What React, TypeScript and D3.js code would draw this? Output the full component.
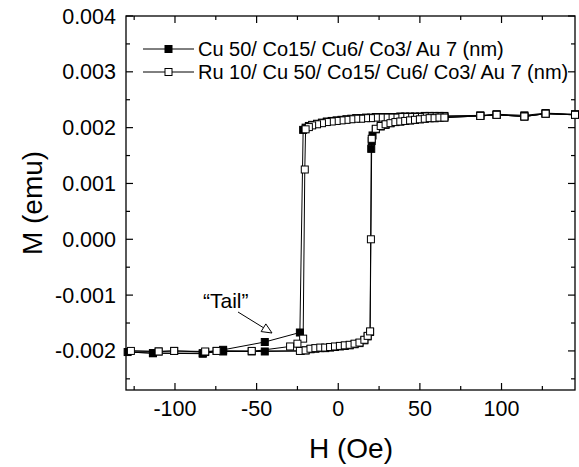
import React from 'react'
import * as d3 from 'd3'

const W = 579, HT = 467
const FONT = '"Liberation Sans", Arial, Helvetica, sans-serif'

// axis ticks (M in 1e-3 emu)
const xTicks = [-100, -50, 0, 50, 100]
const xMinor = [-125, -75, -25, 25, 75, 125]
const yTicks = [-2, -1, 0, 1, 2, 3, 4]
const yMinor = [-2.5, -1.5, -0.5, 0.5, 1.5, 2.5, 3.5]

const names = ['Cu 50/ Co15/ Cu6/ Co3/ Au 7 (nm)', 'Ru 10/ Cu 50/ Co15/ Cu6/ Co3/ Au 7 (nm)']

// Cu 50 / ... (filled squares), sweep down then up
const hCu = [145, 127, 114, 97, 87, 65, 62, 59, 56, 53, 50, 47, 44, 41, 38, 35, 32, 29, 26, 23, 20, 17, 14, 11, 8, 5, 2, -1, -4, -7, -10, -13, -16, -18, -20, -21.5,
  -23.5, -45, -70.5, -83, -113.5, -129,
  -113.5, -83, -70.5, -45, -23, -20, -17, -14, -11, -8, -5, -2, 1, 4, 7, 10, 13, 16, 18, 19.5,
  20.2, 20.5, 21, 23, 26, 29, 32, 35, 38, 41, 44, 47, 50, 53, 56, 59, 62, 65, 87, 97, 114, 127, 145]
const mCu = [2.24, 2.26, 2.22, 2.24, 2.22, 2.21, 2.21, 2.21, 2.21, 2.21, 2.2, 2.2, 2.2, 2.2, 2.2, 2.19, 2.19, 2.19, 2.19, 2.19, 2.18, 2.18, 2.17, 2.17, 2.16, 2.15, 2.14, 2.13, 2.12, 2.11, 2.09, 2.07, 2.05, 2.03, 2.0, 1.96,
  -1.67, -1.84, -1.98, -2.05, -2.04, -2.02,
  -2.04, -2.04, -2.01, -2.01, -2.0, -1.99, -1.97, -1.96, -1.95, -1.95, -1.94, -1.93, -1.92, -1.91, -1.9, -1.88, -1.86, -1.81, -1.74, -1.66,
  1.62, 1.76, 1.86, 1.97, 2.02, 2.05, 2.08, 2.1, 2.11, 2.12, 2.13, 2.14, 2.15, 2.16, 2.17, 2.17, 2.18, 2.18, 2.21, 2.23, 2.2, 2.25, 2.23]

// Ru 10 / Cu 50 / ... (open squares)
const hRu = [145, 127, 114, 97, 87, 65, 62, 59, 56, 53, 50, 47, 44, 41, 38, 35, 32, 29, 26, 23, 20, 17, 14, 11, 8, 5, 2, -1, -4, -7, -10, -13, -16, -18, -20,
  -20.5, -21.5, -25, -29.5, -53, -74.5, -81.5, -100.5, -110, -127,
  -110, -100.5, -81.5, -74.5, -53, -23.5, -20, -17, -14, -11, -8, -5, -2, 1, 4, 7, 10, 13, 16, 18, 19.5,
  20, 20.5, 23, 26, 29, 32, 35, 38, 41, 44, 47, 50, 53, 56, 59, 62, 65, 87, 97, 114, 127, 145]
const mRu = [2.23, 2.25, 2.2, 2.23, 2.21, 2.2, 2.2, 2.2, 2.2, 2.2, 2.19, 2.19, 2.19, 2.19, 2.19, 2.18, 2.18, 2.18, 2.18, 2.18, 2.17, 2.17, 2.16, 2.16, 2.15, 2.14, 2.13, 2.12, 2.11, 2.1, 2.08, 2.06, 2.04, 2.01, 1.97,
  1.25, -1.78, -1.87, -1.92, -2.01, -2.0, -2.02, -2.0, -2.01, -2.0,
  -2.01, -2.0, -2.01, -2.0, -2.0, -2.0, -1.99, -1.96, -1.95, -1.94, -1.94, -1.93, -1.92, -1.91, -1.9, -1.89, -1.87, -1.85, -1.8, -1.73, -1.65,
  0.0, 1.8, 1.98, 2.03, 2.06, 2.08, 2.1, 2.11, 2.12, 2.13, 2.14, 2.15, 2.16, 2.17, 2.17, 2.18, 2.18, 2.21, 2.23, 2.2, 2.25, 2.23]

const L = 126, R = 575, T = 16, B = 390
const x = d3.scaleLinear().domain([-130, 145]).range([L, R])
const y = d3.scaleLinear().domain([-2.7, 4.0]).range([B, T])
const fmt = (v: number) => d3.format('.3f')(v / 1000).replace('\u2212', '-')

function Series({ hs, ms, filled }: { hs: number[]; ms: number[]; filled: boolean }) {
  const pts = hs.map((h, i) => [x(h), y(ms[i])] as [number, number])
  const path = d3.line()(pts) || ''
  const s = 7
  return (
    <g>
      <path d={path} fill="none" stroke="#000" strokeWidth={1} />
      {pts.map((p, i) => (
        <rect key={i} x={p[0] - s / 2} y={p[1] - s / 2} width={s} height={s}
          fill={filled ? '#000' : '#fff'} stroke="#000" strokeWidth={1} />
      ))}
    </g>
  )
}

export default function App() {
  const tickLine = (v: number, len: number, axis: 'x' | 'y', k: string) =>
    axis === 'x' ? (
      <g key={k}>
        <line x1={x(v)} x2={x(v)} y1={B} y2={B - len} stroke="#000" strokeWidth={1.2} />
        <line x1={x(v)} x2={x(v)} y1={T} y2={T + len} stroke="#000" strokeWidth={1.2} />
      </g>
    ) : (
      <g key={k}>
        <line x1={L} x2={L + len} y1={y(v)} y2={y(v)} stroke="#000" strokeWidth={1.2} />
        <line x1={R} x2={R - len} y1={y(v)} y2={y(v)} stroke="#000" strokeWidth={1.2} />
      </g>
    )

  const arrowTip: [number, number] = [272, 333]
  const arrowStart: [number, number] = [238, 312]
  const ang = Math.atan2(arrowTip[1] - arrowStart[1], arrowTip[0] - arrowStart[0])
  const ah = 10, aw = 4.5
  const bx = arrowTip[0] - ah * Math.cos(ang), by = arrowTip[1] - ah * Math.sin(ang)
  const head = `M${arrowTip[0]},${arrowTip[1]} L${bx - aw * Math.sin(ang)},${by + aw * Math.cos(ang)} L${bx + aw * Math.sin(ang)},${by - aw * Math.cos(ang)} Z`

  return (
    <svg width={W} height={HT} style={{ position: 'absolute', left: 0, top: 0, background: '#fff' }}
      fontFamily={FONT}>
      <rect x={0} y={0} width={W} height={HT} fill="#fff" />
      <rect x={L} y={T} width={R - L} height={B - T} fill="none" stroke="#000" strokeWidth={1.3} />
      {xTicks.map((v, i) => tickLine(v, 7, 'x', 'xt' + i))}
      {xMinor.map((v, i) => tickLine(v, 4, 'x', 'xm' + i))}
      {yTicks.map((v, i) => tickLine(v, 7, 'y', 'yt' + i))}
      {yMinor.map((v, i) => tickLine(v, 4, 'y', 'ym' + i))}
      {xTicks.map((v, i) => (
        <text key={'xl' + i} x={x(v)} y={416} fontSize={21.5} textAnchor="middle">{v}</text>
      ))}
      {yTicks.map((v, i) => (
        <text key={'yl' + i} x={116} y={y(v) + 7.5} fontSize={21.5} textAnchor="end">{fmt(v)}</text>
      ))}
      <text x={351} y={458} fontSize={28} textAnchor="middle">H (Oe)</text>
      <text transform={`translate(42,${(T + B) / 2}) rotate(-90)`} fontSize={28} textAnchor="middle">M (emu)</text>

      <Series hs={hCu} ms={mCu} filled={true} />
      <Series hs={hRu} ms={mRu} filled={false} />

      <text x={203} y={308} fontSize={21}>“Tail”</text>
      <line x1={arrowStart[0]} y1={arrowStart[1]} x2={bx} y2={by} stroke="#000" strokeWidth={1} />
      <path d={head} fill="#fff" stroke="#000" strokeWidth={1} />

      {names.map((n, i) => {
        const ly = 49 + i * 23
        return (
          <g key={'lg' + i}>
            <line x1={143} x2={194} y1={ly} y2={ly} stroke="#000" strokeWidth={1} />
            <rect x={165} y={ly - 3.5} width={7} height={7} fill={i === 0 ? '#000' : '#fff'} stroke="#000" />
            <text x={198} y={ly + 7} fontSize={20}>{n}</text>
          </g>
        )
      })}
    </svg>
  )
}
